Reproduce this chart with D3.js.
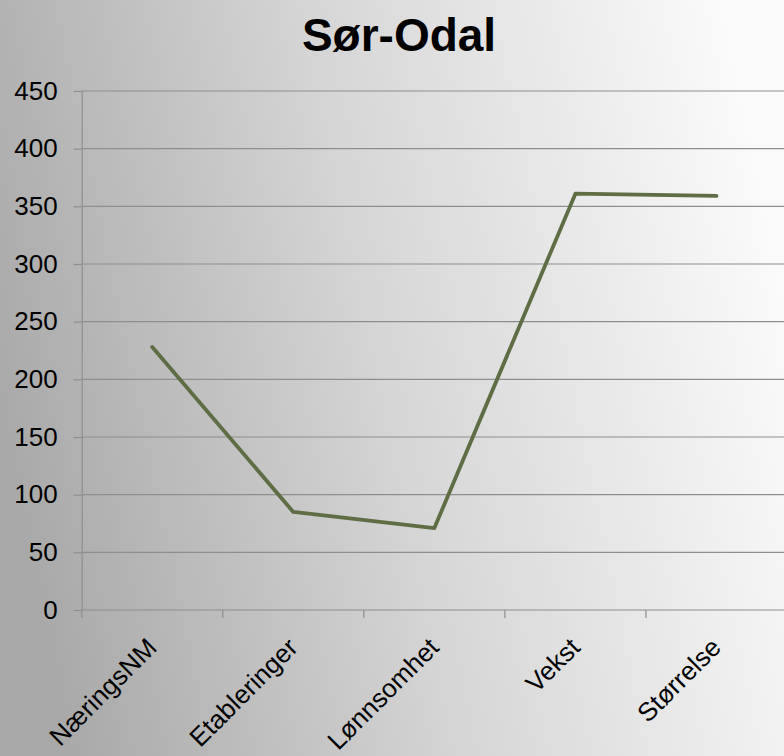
<!DOCTYPE html>
<html>
<head>
<meta charset="utf-8">
<script src="https://cdn.jsdelivr.net/npm/d3@7/dist/d3.min.js"></script>
<style>
  html, body { margin: 0; padding: 0; overflow: hidden; }
  svg { display: block; font-family: "Liberation Sans", Arial, sans-serif; }
</style>
</head>
<body>
<svg id="chart"></svg>
<script>
  // data
  const categories = ['NæringsNM', 'Etableringer', 'Lønnsomhet', 'Vekst', 'Størrelse'];
  const values = [228, 85, 71, 361, 359];
  const yTicks = [0, 50, 100, 150, 200, 250, 300, 350, 400, 450];
  const title = 'Sør-Odal';

  const W = 784, H = 756;
  const plotL = 81.7, plotR = 787, plotT = 91, plotB = 610;

  const svg = d3.select('#chart').attr('width', W).attr('height', H);

  // background gradient: darker grey left, near white right
  const defs = svg.append('defs');
  const grad = defs.append('linearGradient').attr('id', 'bg')
    .attr('x1', '0').attr('y1', '0.6').attr('x2', '1').attr('y2', '0.4');
  grad.append('stop').attr('offset', '0').attr('stop-color', '#a8a8a8');
  grad.append('stop').attr('offset', '0.5').attr('stop-color', '#d6d6d6');
  grad.append('stop').attr('offset', '1').attr('stop-color', '#fafafa');
  svg.append('rect').attr('width', W).attr('height', H).attr('fill', 'url(#bg)');

  const x = d3.scaleBand().domain(categories).range([plotL, plotR]);
  const y = d3.scaleLinear().domain([0, 450]).range([plotB, plotT]);

  // grid lines
  svg.append('g').selectAll('line')
    .data(yTicks.filter(d => d > 0))
    .join('line')
    .attr('x1', plotL).attr('x2', W)
    .attr('y1', d => y(d)).attr('y2', d => y(d))
    .attr('stroke', '#8e8e8e').attr('stroke-width', 1.2);

  // y axis
  const yAxis = svg.append('g').attr('transform', `translate(${plotL},0)`)
    .call(d3.axisLeft(y).tickValues(yTicks).tickSize(8).tickPadding(16).tickSizeOuter(0));
  yAxis.select('.domain').attr('stroke', '#8e8e8e').attr('stroke-width', 1.2);
  yAxis.selectAll('.tick line').attr('stroke', '#8e8e8e').attr('stroke-width', 1.2);
  yAxis.selectAll('.tick text')
    .attr('fill', '#000').style('font-size', '26px')
    .style('font-family', '"Liberation Sans", Arial, sans-serif');

  // x axis
  const xAxis = svg.append('g').attr('transform', `translate(0,${plotB})`)
    .call(d3.axisBottom(x).tickSize(0).tickSizeOuter(0));
  xAxis.select('.domain').remove();
  svg.append('line')
    .attr('x1', plotL).attr('x2', W).attr('y1', plotB).attr('y2', plotB)
    .attr('stroke', '#8e8e8e').attr('stroke-width', 1.2);
  // boundary ticks between categories
  svg.append('g').selectAll('line')
    .data(categories)
    .join('line')
    .attr('x1', d => x(d)).attr('x2', d => x(d))
    .attr('y1', plotB).attr('y2', plotB + 8)
    .attr('stroke', '#8e8e8e').attr('stroke-width', 1.2);
  xAxis.selectAll('.tick text')
    .attr('fill', '#000').style('font-size', '26px')
    .style('font-family', '"Liberation Sans", Arial, sans-serif')
    .attr('text-anchor', 'end')
    .attr('dy', 0)
    .attr('transform', 'translate(4,37) rotate(-45)');

  // line
  const line = d3.line()
    .x(d => x(d.cat) + x.bandwidth() / 2)
    .y(d => y(d.v));
  svg.append('path')
    .datum(categories.map((c, i) => ({ cat: c, v: values[i] })))
    .attr('d', line)
    .attr('fill', 'none')
    .attr('stroke', '#5f6d45')
    .attr('stroke-width', 3.8)
    .attr('stroke-linejoin', 'round')
    .attr('stroke-linecap', 'round');

  // title
  svg.append('text')
    .attr('x', 399).attr('y', 51)
    .attr('text-anchor', 'middle')
    .style('font-size', '46px').style('font-weight', 'bold')
    .text(title);
</script>
</body>
</html>
